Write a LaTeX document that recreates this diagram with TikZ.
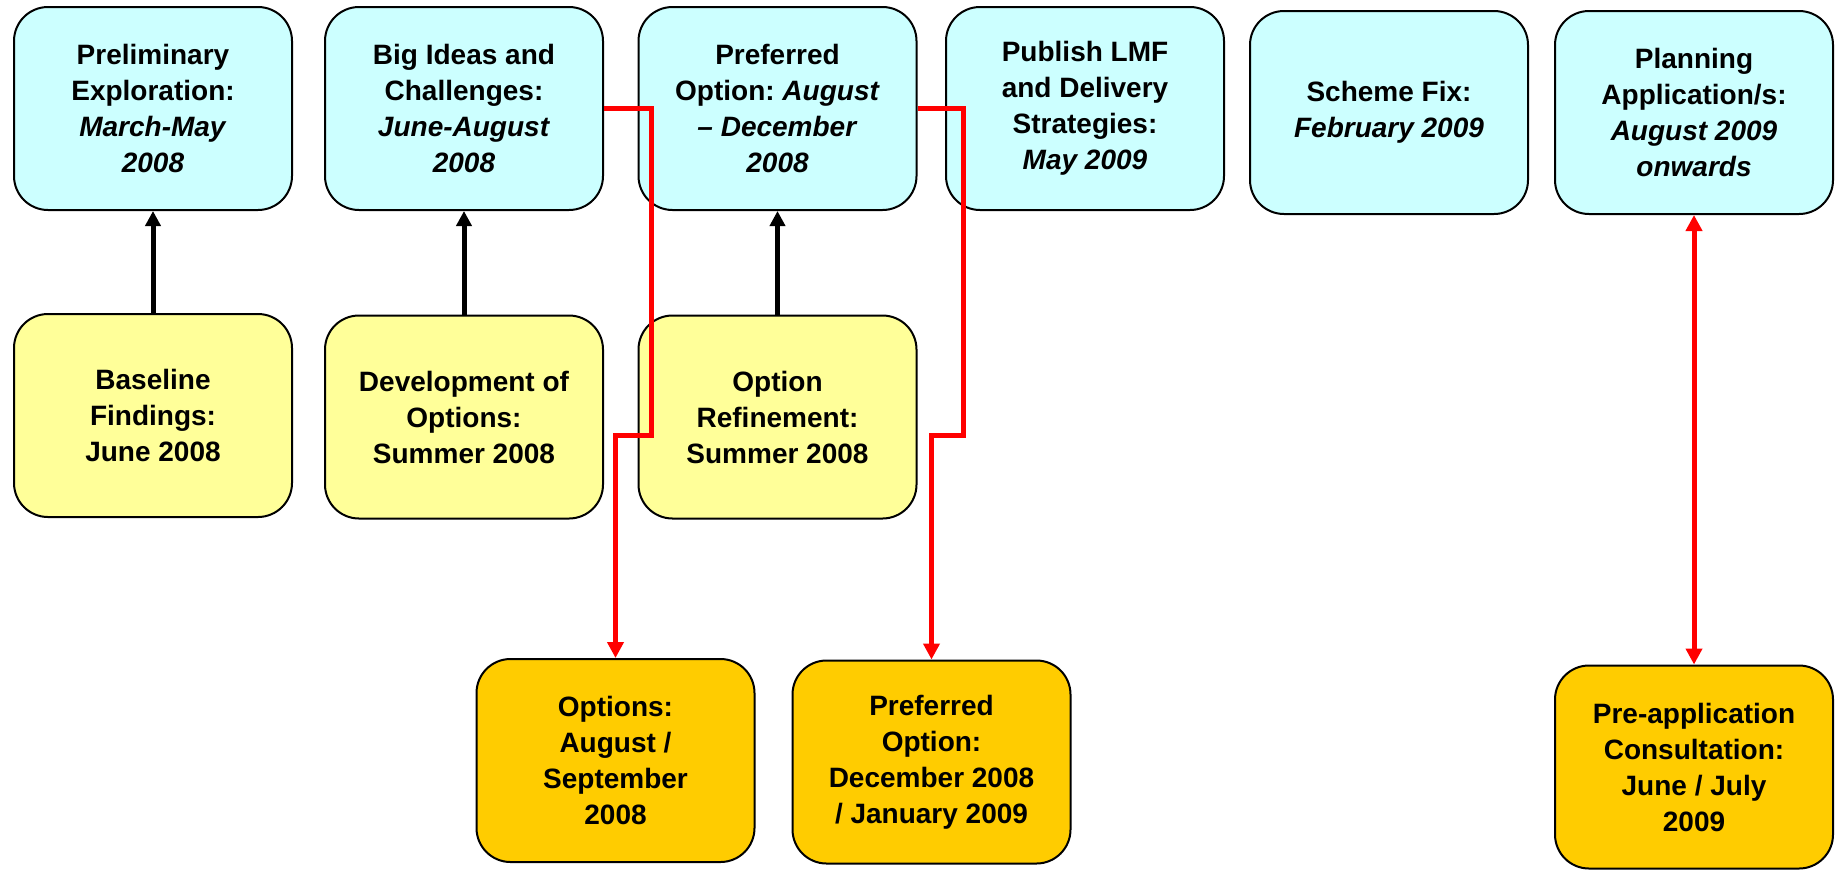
\documentclass[tikz,border=0pt]{standalone}
\usepackage{fontspec}
\setmainfont{Liberation Sans}
\usetikzlibrary{arrows.meta}
\definecolor{boxcyan}{HTML}{CCFFFF}
\definecolor{boxyellow}{HTML}{FFFF99}
\definecolor{boxorange}{HTML}{FFCC00}
\definecolor{linered}{HTML}{FF0000}
\tikzset{
  stagebox/.style={draw=black, line width=1pt, rounded corners=17pt,
    minimum width=139pt, minimum height=101.5pt, inner sep=0pt,
    align=center, font=\fontsize{14pt}{18pt}\selectfont\bfseries},
  topbox/.style={stagebox, fill=boxcyan},
  midbox/.style={stagebox, fill=boxyellow},
  lowbox/.style={stagebox, fill=boxorange},
  blackarrow/.style={draw=black, line width=2.5pt, -{Triangle[width=7.5pt,length=7.5pt]}},
  redarrow/.style={draw=linered, line width=2.5pt, -{Triangle[width=8pt,length=8pt]}},
  redboth/.style={draw=linered, line width=2.5pt, {Triangle[width=8pt,length=8pt]}-{Triangle[width=8pt,length=8pt]}}
}
\begin{document}
\begin{tikzpicture}[x=0.5pt,y=-0.5pt]
\useasboundingbox (0,0) rectangle (1835,869);
% top row
\node[topbox] (B1) at (153,108.5) {Preliminary\\Exploration:\\\textit{March-May}\\\textit{2008}};
\node[topbox] (B2) at (464,108.5) {Big Ideas and\\Challenges:\\\textit{June-August}\\\textit{2008}};
\node[topbox] (B3) at (777.5,108.5) {Preferred\\Option:~\textit{August}\\\textit{– December}\\\textit{2008}};
\node[topbox] (B4) at (1085,108.5) {Publish LMF\\and Delivery\\Strategies:\\\textit{May 2009}};
\node[topbox] (B5) at (1389,112.5) {Scheme Fix:\\\textit{February 2009}};
\node[topbox] (B6) at (1694,112.5) {Planning\\Application/s:\\\textit{August 2009}\\\textit{onwards}};
% middle row
\node[midbox] (Y1) at (153,415.5) {Baseline\\Findings:\\June 2008};
\node[midbox] (Y2) at (464,417) {Development of\\Options:\\Summer 2008};
\node[midbox] (Y3) at (777.5,417) {Option\\Refinement:\\Summer 2008};
% bottom row
\node[lowbox] (O1) at (615.5,760.5) {Options:\\August /\\September\\2008};
\node[lowbox] (O2) at (931.5,762) {Preferred\\Option:\\December 2008\\/ January 2009};
\node[lowbox] (O3) at (1694,767) {Pre-application\\Consultation:\\June / July\\2009};
% black arrows
\draw[blackarrow] (Y1.north) -- (B1.south);
\draw[blackarrow] (Y2.north) -- (B2.south);
\draw[blackarrow] (Y3.north) -- (B3.south);
% red connectors
\coordinate (r1) at (651,435);
\coordinate (r2) at (963,435);
\draw[redarrow] (B2.east) -| (r1) -| (O1.north);
\draw[redarrow] (B3.east) -| (r2) -| (O2.north);
\draw[redboth] (B6.south) -- (O3.north);
\end{tikzpicture}
\end{document}
